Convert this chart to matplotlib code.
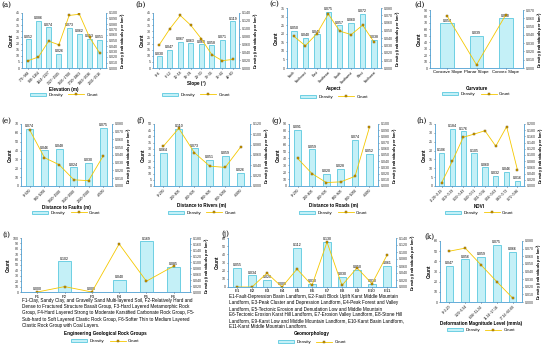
import numpy as np
import matplotlib.pyplot as plt
from matplotlib.ticker import FormatStrFormatter, MultipleLocator

# ---- data ----
elev_cats = ["776~988", "988~1164", "1164~1327", "1327~1505", "1505~1700", "1700~1863", "1863~2036", "2036~2516"]
elev_density = [0.052, 0.086, 0.074, 0.026, 0.073, 0.062, 0.053, 0.051]
elev_count = [6, 9, 22, 19, 43, 44, 25, 12]

slope_cats = ["0~6", "6~12", "12~18", "18~24", "24~30", "30~36", "36~42", "42~80"]
slope_density = [0.030, 0.047, 0.067, 0.063, 0.060, 0.058, 0.071, 0.119]
slope_count = [19, 32, 43, 35, 24, 11, 6, 7]

aspect_cats = ["North", "Northeast", "East", "Southeast", "South", "Southwest", "West", "Northwest"]
aspect_density = [0.050, 0.040, 0.045, 0.075, 0.057, 0.060, 0.072, 0.038]
aspect_count = [18.5, 13, 20, 31.5, 21.5, 19.5, 25, 15]

curv_cats = ["Concave Slope", "Planar Slope", "Convex Slope"]
curv_density = [0.054, 0.039, 0.060]
curv_count = [80, 5, 82]

fault_cats = ["0~500", "500~1000", "1000~1500", "1500~2000", "2000~2500", ">2500"]
fault_density = [0.074, 0.046, 0.048, 0.024, 0.030, 0.075]
fault_count = [63, 32, 24, 7, 6, 34]

river_cats = ["0~200", "200~400", "400~600", "600~800", "800~1000", ">1000"]
river_density = [0.064, 0.110, 0.073, 0.051, 0.059, 0.026]
river_count = [32, 46.5, 27, 16, 15, 31.5]

road_cats = ["0~200", "200~400", "400~600", "600~800", "800~1000", ">1000"]
road_density = [0.091, 0.059, 0.020, 0.028, 0.074, 0.052]
road_count = [40, 18, 5, 6, 14, 85]

ndvi_cats = ["-0.20~0.19", "0.19~0.33", "0.33~0.43", "0.43~0.51", "0.51~0.56", "0.56~0.63", "0.63~0.72", "0.72~0.86"]
ndvi_density = [0.106, 0.184, 0.176, 0.105, 0.060, 0.032, 0.046, 0.016]
ndvi_count = [1.7, 14, 27.5, 29.3, 31.2, 22.5, 33.5, 9]

rock_cats = ["F1", "F2", "F3", "F4", "F5", "F6"]
rock_density = [0.000, 0.102, 0.000, 0.040, 0.169, 0.085]
rock_count = [0, 10, 0, 89, 20, 48]

geo_cats = ["E1", "E2", "E3", "E4", "E5", "E6", "E7", "E8", "E9", "E10", "E11"]
geo_density = [0.055, 0.034, 0.020, 0.000, 0.112, 0.010, 0.130, 0.030, 0.050, 0.010, 0.061]
geo_count = [0, 0, 17, 0, 22, 2, 55, 2, 23.5, 4, 39]

def_cats = ["0~3.20", "3.20~6.94", "6.94~11.24", "11.24~17.16", "17.16~60.60"]
def_density = [0.047, 0.056, 0.059, 0.075, 0.066]
def_count = [50, 53, 36.5, 20, 4]

rock_note = ("F1-Clay, Sandy Clay, and Gravelly Sand Multi-layered Soil, F2-Relatively Hard and\n"
             "Dense to Fractured Structure Basalt Group, F3-Hard Layered Metamorphic Rock\n"
             "Group, F4-Hard Layered Strong to Moderate Karstified Carbonate Rock Group, F5-\n"
             "Sub-hard to Soft Layered Clastic Rock Group, F6-Softer Thin to Medium Layered\n"
             "Clastic Rock Group with Coal Layers.")
geo_note = ("E1-Fault-Depression Basin Landform, E2-Fault Block Uplift Karst Middle Mountain\n"
            "Landform, E3-Peak Cluster and Depression Landform, E4-Peak Forest and Valley\n"
            "Landform, E5-Tectonic Erosion and Denudation Low and Middle Mountain\n"
            "E6-Tectonic Erosion Karst Hill Landform, E7-Erosion Valley Landform, E8-Stone Hill\n"
            "Landform, E9-Karst Low and Middle Mountain Landform, E10-Karst Basin Landform,\n"
            "E11-Karst Middle Mountain Landform.")

W, H = 550, 348
BAR_FC = "#c4f0f7"
BAR_EC = "#40c0da"
LINE_C = "#f5c800"
SPINE_C = "#5aa6d6"

fig = plt.figure(figsize=(5.5, 3.48), dpi=100)
plt.rcParams['font.family'] = 'Liberation Sans'


def panel(tag, box, cats, dens, cnt, cmax, cstep, dmax, dstep, xlabel,
          rot=True, leg_y=None, tag_xy=None, xlab_pad=1.0):
    x0, y0, x1, y1 = box
    ax = fig.add_axes([x0 / W, 1 - y1 / H, (x1 - x0) / W, (y1 - y0) / H])
    ax2 = ax.twinx()
    ax.set_zorder(ax2.get_zorder() + 1)
    ax.patch.set_visible(False)
    x = np.arange(len(cats))
    bars = ax2.bar(x, dens, width=0.48, color=BAR_FC, edgecolor=BAR_EC, linewidth=0.5, label="Density")
    for xi, d in zip(x, dens):
        ax2.text(xi, d + dmax * 0.012, "%.3f" % d, ha="center", va="bottom", fontsize=2.5)
    line, = ax.plot(x, cnt, color=LINE_C, lw=0.6, marker="s", ms=1.9,
                    mfc="#e0a800", mec="#6b4f00", mew=0.3, label="Count")
    ax.set_ylim(0, cmax)
    ax.yaxis.set_major_locator(MultipleLocator(cstep))
    ax2.set_ylim(0, dmax)
    ax2.yaxis.set_major_locator(MultipleLocator(dstep))
    ax2.yaxis.set_major_formatter(FormatStrFormatter("%.3f"))
    ax.set_xlim(-0.6, len(cats) - 0.4)
    ax.set_xticks(x)
    if rot:
        ax.set_xticklabels(cats, rotation=45, ha="right", rotation_mode="anchor", fontsize=2.4)
    else:
        ax.set_xticklabels(cats, fontsize=3.2)
    for a in (ax, ax2):
        a.tick_params(axis="y", labelsize=2.6, length=1.0, width=0.4, pad=0.8, colors="#333333")
        a.tick_params(axis="x", length=1.0, width=0.4, pad=0.8)
        a.spines["top"].set_visible(False)
        for s in ("left", "right", "bottom"):
            a.spines[s].set_color(SPINE_C)
            a.spines[s].set_linewidth(0.5)
    ax.set_ylabel("Count", fontsize=3.3, fontweight="bold", labelpad=1.2)
    ax2.set_ylabel("Density (individuals per km$^2$)", fontsize=2.9, fontweight="bold", labelpad=1.2)
    if xlabel:
        ax.set_xlabel(xlabel, fontsize=3.3, fontweight="bold", labelpad=xlab_pad)
    tx, ty = tag_xy
    fig.text(tx / W, 1 - ty / H, tag, fontsize=5.2, family="DejaVu Serif", va="center")
    if leg_y is not None:
        fig.legend([bars, line], ["Density", "Count"], loc="center",
                   bbox_to_anchor=(((x0 + x1) / 2) / W, 1 - leg_y / H), ncol=2, frameon=False,
                   fontsize=3.2, handlelength=3.6, handleheight=0.7, columnspacing=1.2,
                   handletextpad=0.5, borderpad=0.1)
    return ax


# row 1
panel("(a)", (22, 13, 106, 68), elev_cats, elev_density, elev_count, 45, 5, 0.100, 0.010,
      "Elevation (m)", leg_y=95, tag_xy=(1, 5))
panel("(b)", (153, 13, 239, 68), slope_cats, slope_density, slope_count, 45, 5, 0.140, 0.020,
      "Slope (°)", leg_y=95, tag_xy=(135, 5))
panel("(c)", (287, 8, 381, 68), aspect_cats, aspect_density, aspect_count, 35, 5, 0.080, 0.010,
      "Aspect", leg_y=97, tag_xy=(269, 4))
panel("(d)", (430, 10, 523, 68), curv_cats, curv_density, curv_count, 90, 10, 0.070, 0.010,
      "Curvature", rot=False, leg_y=94, tag_xy=(414, 5), xlab_pad=8)

# row 2
panel("(e)", (21, 124, 112, 186), fault_cats, fault_density, fault_count, 70, 10, 0.080, 0.010,
      "Distance to Faults (m)", leg_y=213, tag_xy=(1, 121))
panel("(f)", (154, 124, 250, 186), river_cats, river_density, river_count, 50, 5, 0.120, 0.020,
      "Distance to Rivers (m)", leg_y=213, tag_xy=(136, 121))
panel("(g)", (289, 124, 378, 186), road_cats, road_density, road_count, 90, 10, 0.100, 0.010,
      "Distance to Roads (m)", leg_y=213, tag_xy=(271, 121))
panel("(h)", (435, 124, 524, 186), ndvi_cats, ndvi_density, ndvi_count, 35, 5, 0.200, 0.020,
      "NDVI", leg_y=213, tag_xy=(416, 121))

# row 3
panel("(i)", (21, 238, 190, 292), rock_cats, rock_density, rock_count, 100, 10, 0.180, 0.020,
      None, rot=False, leg_y=341, tag_xy=(2, 235))
fig.text(22 / W, 1 - 298 / H, rock_note, fontsize=3.3, va="top", ha="left", linespacing=1.3)
fig.text(105 / W, 1 - 333 / H, "Engineering Geological Rock Groups", fontsize=3.3,
         fontweight="bold", ha="center", va="center")

panel("(j)", (228, 238, 396, 287), geo_cats, geo_density, geo_count, 60, 10, 0.140, 0.020,
      None, rot=False, leg_y=342, tag_xy=(221, 234))
fig.text(229 / W, 1 - 294 / H, geo_note, fontsize=3.3, va="top", ha="left", linespacing=1.25)
fig.text(312 / W, 1 - 334 / H, "Geomorphology", fontsize=3.3,
         fontweight="bold", ha="center", va="center")

panel("(k)", (440, 241, 522, 302), def_cats, def_density, def_count, 60, 10, 0.080, 0.010,
      "Deformation Magnitude Level (mm/a)", leg_y=330, tag_xy=(424, 237), xlab_pad=0.5)

fig.savefig("out.png", dpi=100)
